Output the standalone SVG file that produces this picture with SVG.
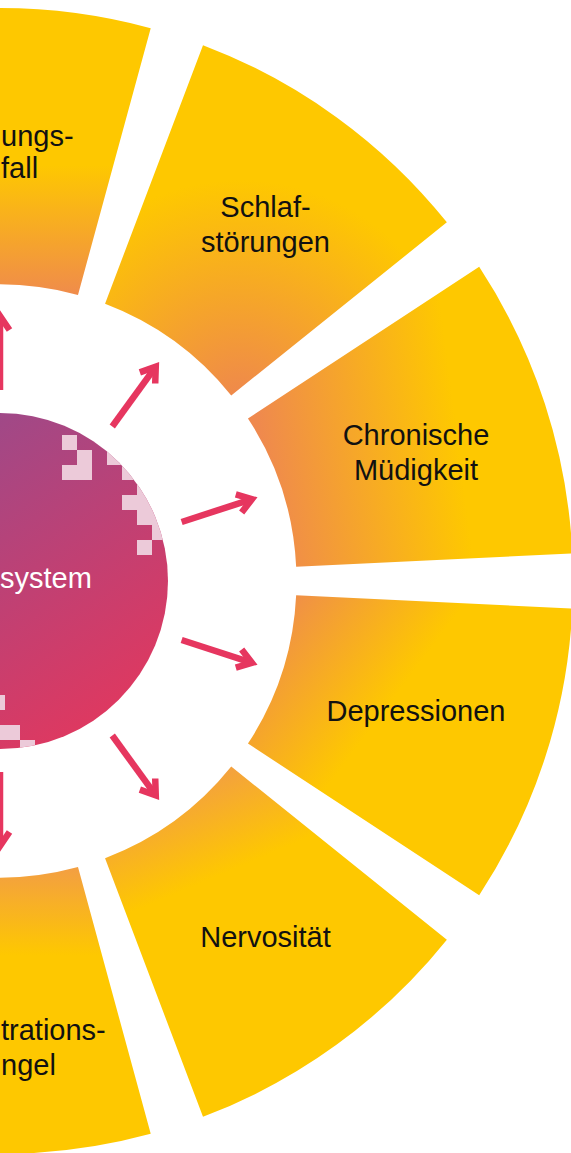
<svg xmlns="http://www.w3.org/2000/svg" width="571" height="1153" viewBox="0 0 571 1153">
  <style>
    .label { font-family: "Liberation Sans", Arial, sans-serif; font-size: 29px; fill: #111111; text-anchor: middle; }
    .edge { font-family: "Liberation Sans", Arial, sans-serif; font-size: 29px; fill: #111111; text-anchor: start; }
    .hub { font-family: "Liberation Sans", Arial, sans-serif; font-size: 29px; fill: #ffffff; text-anchor: start; }
    .arrow { fill: none; stroke: #E6365F; stroke-width: 6.5; stroke-linecap: butt; }
    .pix { fill: #ECCAD9; }
  </style>
  <defs>
    <!-- per-segment warm fills: orange near the hub, yellow towards the rim -->
    <linearGradient id="gTop" gradientUnits="userSpaceOnUse" x1="0" y1="300" x2="0" y2="165">
      <stop offset="0" stop-color="#EF894E"/>
      <stop offset="1" stop-color="#FEC800"/>
    </linearGradient>
    <radialGradient id="gSleep" gradientUnits="userSpaceOnUse" cx="240" cy="405" r="225">
      <stop offset="0" stop-color="#EE864F"/>
      <stop offset="1" stop-color="#FEC800"/>
    </radialGradient>
    <linearGradient id="gTired" gradientUnits="userSpaceOnUse" x1="265" y1="480" x2="460" y2="455">
      <stop offset="0" stop-color="#EF894E"/>
      <stop offset="1" stop-color="#FEC800"/>
    </linearGradient>
    <linearGradient id="gDepr" gradientUnits="userSpaceOnUse" x1="280" y1="600" x2="400" y2="690">
      <stop offset="0" stop-color="#EF8C4C"/>
      <stop offset="1" stop-color="#FEC800"/>
    </linearGradient>
    <linearGradient id="gNerv" gradientUnits="userSpaceOnUse" x1="200" y1="775" x2="239" y2="867">
      <stop offset="0" stop-color="#F39F42"/>
      <stop offset="1" stop-color="#FEC800"/>
    </linearGradient>
    <linearGradient id="gConc" gradientUnits="userSpaceOnUse" x1="0" y1="868" x2="0" y2="955">
      <stop offset="0" stop-color="#F39F42"/>
      <stop offset="1" stop-color="#FEC800"/>
    </linearGradient>
    <linearGradient id="gHub" gradientUnits="userSpaceOnUse" x1="-60" y1="420" x2="160" y2="740">
      <stop offset="0" stop-color="#9A4A8B"/>
      <stop offset="1" stop-color="#E8365A"/>
    </linearGradient>
    <clipPath id="hubClip">
      <circle cx="0" cy="581" r="168"/>
    </clipPath>
    <marker id="head" markerUnits="userSpaceOnUse" orient="auto" overflow="visible" refX="0" refY="0" markerWidth="1" markerHeight="1">
      <path d="M-14,-9.5 L0,0 L-14,9.5" fill="none" stroke="#E6365F" stroke-width="6.5" stroke-linejoin="miter" stroke-miterlimit="10"/>
    </marker>
  </defs>

  <!-- ring segments (hub centre at 0,581; inner r 296.5, outer r 573) -->
  <g id="seg-top">
    <path d="M150.72,28.18 A573,573 0 0 0 -150.72,28.18 L-77.99,294.94 A296.5,296.5 0 0 1 77.99,294.94 Z" fill="url(#gTop)"/>
    <text class="edge" x="1" y="146">ungs-</text>
    <text class="edge" x="1" y="178">fall</text>
  </g>
  <g id="seg-schlafstoerungen">
    <path d="M446.87,222.35 A573,573 0 0 0 203.01,45.17 L105.05,303.73 A296.5,296.5 0 0 1 231.24,395.41 Z" fill="url(#gSleep)"/>
    <text class="label" x="265.5" y="217">Schlaf-</text>
    <text class="label" x="265.5" y="252">störungen</text>
  </g>
  <g id="seg-muedigkeit">
    <path d="M572.34,553.51 A573,573 0 0 0 479.19,266.83 L247.96,418.43 A296.5,296.5 0 0 1 296.16,566.77 Z" fill="url(#gTired)"/>
    <text class="label" x="416" y="445">Chronische</text>
    <text class="label" x="416" y="480">Müdigkeit</text>
  </g>
  <g id="seg-depressionen">
    <path d="M479.19,895.17 A573,573 0 0 0 572.34,608.49 L296.16,595.23 A296.5,296.5 0 0 1 247.96,743.57 Z" fill="url(#gDepr)"/>
    <text class="label" x="416" y="721">Depressionen</text>
  </g>
  <g id="seg-nervositaet">
    <path d="M203.01,1116.83 A573,573 0 0 0 446.87,939.65 L231.24,766.59 A296.5,296.5 0 0 1 105.05,858.27 Z" fill="url(#gNerv)"/>
    <text class="label" x="265.5" y="947">Nervosität</text>
  </g>
  <g id="seg-bottom">
    <path d="M-150.72,1133.82 A573,573 0 0 0 150.72,1133.82 L77.99,867.06 A296.5,296.5 0 0 1 -77.99,867.06 Z" fill="url(#gConc)"/>
    <text class="edge" x="1" y="1040">trations-</text>
    <text class="edge" x="1" y="1075">ngel</text>
  </g>

  <!-- hub -->
  <g id="hub">
    <circle cx="0" cy="581" r="168" fill="url(#gHub)"/>
    <g clip-path="url(#hubClip)">
      <rect class="pix" x="62" y="435" width="15" height="15"/>
      <rect class="pix" x="77" y="450" width="15" height="15"/>
      <rect class="pix" x="107" y="450" width="15" height="15"/>
      <rect class="pix" x="62" y="465" width="30" height="15"/>
      <rect class="pix" x="122" y="465" width="15" height="15"/>
      <rect class="pix" x="137" y="480" width="15" height="15"/>
      <rect class="pix" x="122" y="495" width="30" height="15"/>
      <rect class="pix" x="137" y="510" width="30" height="15"/>
      <rect class="pix" x="152" y="525" width="15" height="15"/>
      <rect class="pix" x="137" y="540" width="15" height="15"/>
      <rect class="pix" x="-10" y="695" width="15" height="15"/>
      <rect class="pix" x="-10" y="725" width="30" height="15"/>
      <rect class="pix" x="20" y="740" width="15" height="15"/>
    </g>
    <text class="hub" x="0" y="588">system</text>
  </g>

  <!-- arrows from the hub out to each segment -->
  <g id="connectors">
    <path class="arrow" d="M0,390 L0,316" marker-end="url(#head)"/>
    <path class="arrow" d="M112.27,426.48 L155.76,366.61" marker-end="url(#head)"/>
    <path class="arrow" d="M181.65,521.98 L252.03,499.11" marker-end="url(#head)"/>
    <path class="arrow" d="M181.65,640.02 L252.03,662.89" marker-end="url(#head)"/>
    <path class="arrow" d="M112.27,735.52 L155.76,795.39" marker-end="url(#head)"/>
    <path class="arrow" d="M0,772 L0,846" marker-end="url(#head)"/>
  </g>
</svg>
